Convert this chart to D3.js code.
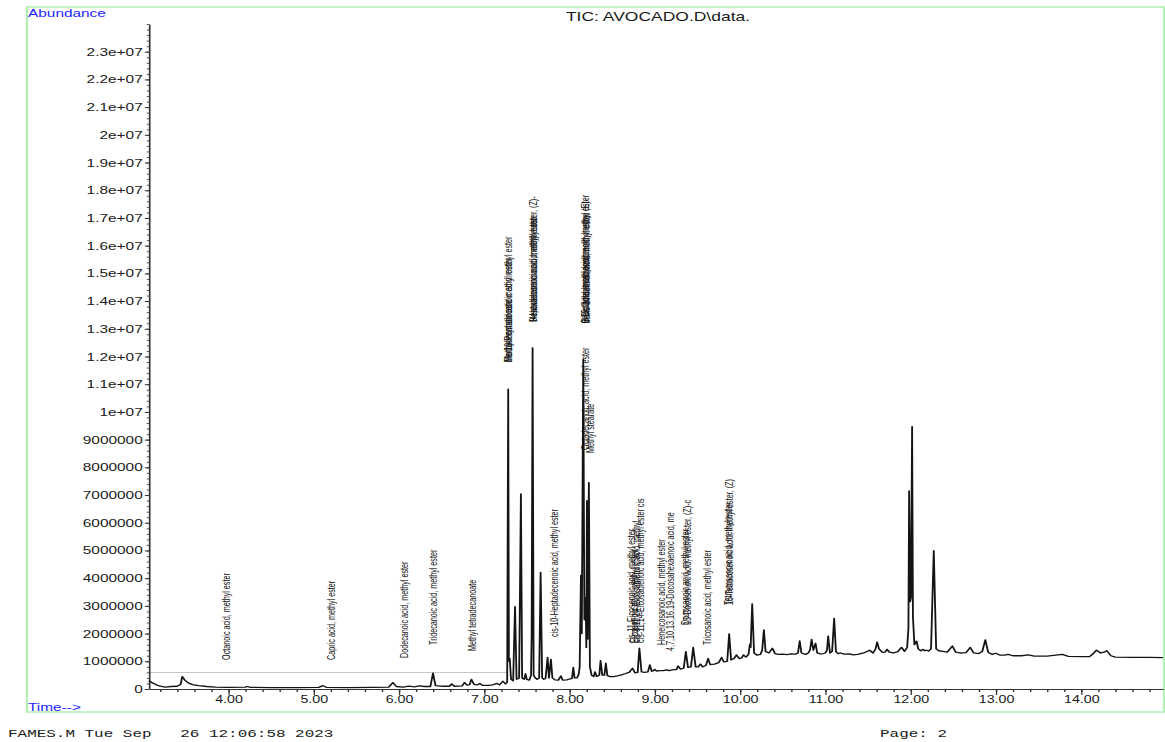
<!DOCTYPE html>
<html><head><meta charset="utf-8">
<script src="https://cdn.jsdelivr.net/npm/d3@7"></script>
<style>html,body{margin:0;padding:0;background:#fff;overflow:hidden}</style>
</head><body>
<svg id="chart" width="1165" height="742"></svg>
<script>
// ---------------- data ----------------
const titleText = "TIC: AVOCADO.D\\data.";
const yAxisTitle = "Abundance";
const xAxisTitle = "Time-->";
const footerLeft = "FAMES.M Tue Sep   26 12:06:58 2023";
const footerRight = "Page: 2";

const xTicks = [4, 5, 6, 7, 8, 9, 10, 11, 12, 13, 14];
const xTickLabels = ["4.00","5.00","6.00","7.00","8.00","9.00","10.00","11.00","12.00","13.00","14.00"];
// abundance in millions
const yTicks = [0,1,2,3,4,5,6,7,8,9,10,11,12,13,14,15,16,17,18,19,20,21,22,23];
const yTickLabels = ["0","1000000","2000000","3000000","4000000","5000000","6000000","7000000","8000000","9000000",
  "1e+07","1.1e+07","1.2e+07","1.3e+07","1.4e+07","1.5e+07","1.6e+07","1.7e+07","1.8e+07","1.9e+07",
  "2e+07","2.1e+07","2.2e+07","2.3e+07"];
const thresholdLevel = 0.6;
const thresholdEnd = 7.28;

// TIC trace: [time (min), abundance (millions)]
const trace = [
[3.07,0.30],[3.10,0.24],[3.15,0.16],[3.20,0.10],[3.26,0.07],[3.33,0.09],[3.40,0.10],[3.44,0.16],[3.46,0.45],[3.49,0.32],
[3.53,0.22],[3.58,0.16],[3.65,0.12],[3.75,0.09],[3.85,0.07],[4.00,0.06],[4.20,0.07],[4.22,0.09],[4.26,0.06],[4.50,0.05],
[4.80,0.05],[5.06,0.06],[5.11,0.12],[5.15,0.06],[5.40,0.05],[5.70,0.06],[5.88,0.07],[5.93,0.23],[5.97,0.09],[6.05,0.07],
[6.12,0.10],[6.18,0.08],[6.24,0.11],[6.30,0.09],[6.37,0.09],[6.40,0.57],[6.43,0.12],[6.50,0.10],[6.59,0.10],[6.62,0.18],
[6.65,0.10],[6.74,0.11],[6.77,0.23],[6.80,0.14],[6.83,0.16],[6.85,0.35],[6.88,0.17],[6.92,0.15],[6.95,0.20],[6.98,0.13],
[7.05,0.13],[7.10,0.15],[7.15,0.20],[7.18,0.15],[7.22,0.28],[7.25,0.18],[7.27,0.25],[7.282,10.82],[7.29,1.0],[7.30,1.1],
[7.315,0.35],[7.34,0.30],[7.362,2.97],[7.38,0.35],[7.41,0.40],[7.431,7.04],[7.445,0.40],[7.47,0.35],[7.485,0.55],[7.50,0.35],
[7.53,0.32],[7.55,0.50],[7.557,1.90],[7.568,12.31],[7.58,0.50],[7.60,0.40],[7.62,0.35],[7.645,0.40],[7.662,4.21],[7.68,0.40],
[7.70,0.35],[7.72,0.38],[7.744,1.14],[7.76,0.40],[7.783,1.07],[7.80,0.40],[7.83,0.33],[7.87,0.32],[7.90,0.47],[7.92,0.32],
[7.97,0.33],[8.00,0.36],[8.03,0.38],[8.045,0.78],[8.06,0.40],[8.09,0.40],[8.11,0.55],[8.12,0.80],[8.135,4.10],[8.145,2.00],
[8.162,11.90],[8.175,2.50],[8.19,3.30],[8.198,1.50],[8.205,6.80],[8.215,1.80],[8.228,7.45],[8.24,0.80],[8.26,0.50],[8.285,0.45],
[8.30,0.62],[8.32,0.45],[8.35,0.50],[8.365,1.02],[8.385,0.50],[8.41,0.50],[8.427,0.93],[8.445,0.48],[8.48,0.45],[8.52,0.45],
[8.56,0.47],[8.60,0.50],[8.65,0.55],[8.70,0.60],[8.74,0.75],[8.77,0.58],[8.80,0.60],[8.82,1.47],[8.845,0.62],[8.88,0.60],
[8.92,0.62],[8.943,0.87],[8.965,0.64],[8.985,0.66],[9.00,0.71],[9.02,0.65],[9.06,0.66],[9.10,0.66],[9.139,0.69],[9.17,0.66],
[9.22,0.70],[9.255,0.70],[9.275,0.83],[9.30,0.72],[9.34,0.75],[9.365,1.35],[9.39,0.78],[9.425,0.80],[9.451,1.50],[9.48,0.80],
[9.51,0.80],[9.537,0.90],[9.56,0.80],[9.60,0.85],[9.627,1.10],[9.65,0.88],[9.70,0.90],[9.75,0.95],[9.784,1.14],[9.81,0.98],
[9.85,1.00],[9.873,1.99],[9.895,1.05],[9.93,1.10],[9.96,1.23],[9.99,1.10],[10.02,1.12],[10.04,1.23],[10.07,1.15],[10.10,1.25],
[10.116,1.62],[10.125,1.50],[10.143,3.07],[10.165,1.30],[10.20,1.22],[10.24,1.25],[10.26,1.40],[10.28,2.13],[10.30,1.35],[10.34,1.30],
[10.38,1.47],[10.41,1.28],[10.45,1.25],[10.50,1.26],[10.55,1.24],[10.60,1.27],[10.65,1.26],[10.68,1.30],[10.70,1.74],[10.72,1.30],
[10.77,1.25],[10.80,1.30],[10.82,1.40],[10.84,1.79],[10.86,1.40],[10.886,1.65],[10.905,1.30],[10.94,1.27],[10.98,1.28],[11.00,1.30],
[11.02,1.40],[11.034,1.91],[11.055,1.30],[11.08,1.35],[11.104,2.55],[11.125,1.35],[11.15,1.28],[11.18,1.30],[11.22,1.26],[11.28,1.27],
[11.33,1.23],[11.38,1.25],[11.45,1.30],[11.52,1.40],[11.56,1.30],[11.59,1.45],[11.608,1.69],[11.63,1.45],[11.67,1.32],[11.70,1.33],
[11.725,1.43],[11.75,1.33],[11.80,1.30],[11.85,1.35],[11.894,1.50],[11.93,1.36],[11.96,1.50],[11.975,2.20],[11.983,7.15],[11.995,3.15],
[12.005,3.30],[12.018,9.47],[12.028,2.60],[12.045,1.60],[12.07,1.73],[12.09,1.45],[12.12,1.38],[12.148,1.43],[12.165,1.38],[12.187,1.40],
[12.21,1.37],[12.24,1.45],[12.272,4.99],[12.30,1.45],[12.33,1.38],[12.38,1.36],[12.43,1.33],[12.49,1.55],[12.53,1.33],[12.58,1.30],
[12.65,1.31],[12.70,1.50],[12.74,1.30],[12.80,1.28],[12.84,1.35],[12.877,1.77],[12.91,1.32],[12.96,1.25],[12.999,1.29],[13.05,1.22],
[13.10,1.22],[13.144,1.25],[13.20,1.20],[13.30,1.20],[13.38,1.23],[13.45,1.19],[13.60,1.19],[13.78,1.25],[13.85,1.18],[14.00,1.17],
[14.10,1.17],[14.15,1.30],[14.18,1.40],[14.23,1.30],[14.27,1.33],[14.30,1.38],[14.35,1.20],[14.40,1.15],[14.60,1.14],[14.80,1.14],
[14.96,1.13]
];

// peak annotations: name, retention time, abundance (millions) where the label starts
const peakNames = [
"Octanoic acid, methyl ester",
"Capric acid, methyl ester",
"Dodecanoic acid, methyl ester",
"Tridecanoic acid, methyl ester",
"Methyl tetradecanoate",
"Methyl myristoleate",
"Pentadecanoic acid methyl ester",
"cis-10-Pentadecenoic acid methyl ester",
"Hexadecanoic acid, methyl ester",
"Heptadecanoic acid, methyl ester",
"9-Hexadecenoic acid, methyl ester, (Z)-",
"cis-10-Heptadecenoic acid, methyl ester",
"Oleic acid, methyl ester",
"9-Octadecenoic acid, methyl ester, (E)-",
"9,12-Octadecadienoic acid, methyl ester",
"trans-Linoelaidic acid, methyl ester",
"Octadecanoic acid, methyl ester",
"Methyl stearate",
"cis-11-Eicosenoic acid, methyl ester",
"Eicosanoic acid, methyl ester",
"cis-8,11,14-Eicosatrienoic acid, methyl",
"cis-11,14-Eicosadienoic acid, methyl ester cis",
"Heneicosanoic acid, methyl ester",
"4,7,10,13,16,19-Docosahexaenoic acid, me",
"Docosanoic acid, methyl ester",
"13-Docosenoic acid, methyl ester, (Z)-c",
"Tricosanoic acid, methyl ester",
"Tetracosanoic acid, methyl ester",
"15-Tetracosenoic acid, methyl ester, (Z)"
];
const peakTimes = [3.984,5.204,6.071,6.411,6.868,7.280,7.284,7.288,7.574,7.578,7.582,7.830,8.183,8.187,8.190,8.194,
  8.193,8.252,8.733,8.768,8.790,8.838,9.084,9.190,9.360,9.380,9.623,9.865,9.875];
const peakAnchors = [1.05,1.05,1.12,1.59,1.37,11.8,11.8,11.8,13.25,13.25,13.25,1.88,13.2,13.2,13.2,13.2,
  8.63,8.52,1.66,1.66,1.66,1.66,1.59,1.37,2.31,2.31,1.59,3.03,3.03];

// ---------------- layout ----------------
const S = 1.4;                 // horizontal stretch of the printout
const u = px => px / S;        // screen px -> unstretched units
const svg = d3.select("#chart");
const root = svg.append("g").attr("transform", `scale(${S},1)`);

const x = d3.scaleLinear().domain([3.07, 14.96]).range([u(149), u(1163)]);
const y = d3.scaleLinear().domain([0, 24]).range([689, 24]);

// frame
root.append("rect").attr("x", u(27)).attr("y", 7).attr("width", u(1164) - u(27)).attr("height", 705)
  .attr("fill", "none").attr("stroke", "#b0f0b0").attr("stroke-width", 1.5);

const sans = "'Liberation Sans', Arial, Helvetica, sans-serif";

root.append("text").attr("x", u(28)).attr("y", 17).text(yAxisTitle)
  .attr("font-family", sans).attr("font-size", 11).attr("fill", "#2424ff");
root.append("text").attr("x", u(28)).attr("y", 711).text(xAxisTitle)
  .attr("font-family", sans).attr("font-size", 11).attr("fill", "#2424ff");
root.append("text").attr("x", u(658)).attr("y", 21).attr("text-anchor", "middle").text(titleText)
  .attr("font-family", sans).attr("font-size", 12.5).attr("fill", "#1a1a1a");

// threshold line
root.append("line").attr("x1", x(3.07)).attr("x2", x(thresholdEnd))
  .attr("y1", y(thresholdLevel)).attr("y2", y(thresholdLevel))
  .attr("stroke", "#b4b4b4").attr("stroke-width", 0.9);

// y axis
const yMinor = d3.range(0, 24.001, 0.2).map(v => +v.toFixed(1));
root.append("g").attr("transform", `translate(${x(3.07)},0)`)
  .call(d3.axisLeft(y).tickValues(yMinor).tickSize(1.6).tickFormat(""))
  .call(g => g.select(".domain").remove())
  .selectAll("line").attr("stroke", "#555");
const yAx = root.append("g").attr("transform", `translate(${x(3.07)},0)`)
  .call(d3.axisLeft(y).tickValues(yTicks).tickFormat((d, i) => yTickLabels[i]).tickSize(3).tickSizeOuter(0).tickPadding(1.5));
yAx.select(".domain").attr("stroke", "#333").attr("stroke-width", 1.2);
yAx.selectAll(".tick line").attr("stroke", "#333");
yAx.selectAll("text").attr("font-family", sans).attr("font-size", 11).attr("fill", "#1a1a1a");

// x axis
const xMinor = d3.range(3.2, 14.96, 0.2).map(v => +v.toFixed(1));
root.append("g").attr("transform", `translate(0,${y(0)})`)
  .call(d3.axisBottom(x).tickValues(xMinor).tickSize(3).tickFormat(""))
  .call(g => g.select(".domain").remove())
  .selectAll("line").attr("stroke", "#333");
const xAx = root.append("g").attr("transform", `translate(0,${y(0)})`)
  .call(d3.axisBottom(x).tickValues(xTicks).tickFormat((d, i) => xTickLabels[i]).tickSize(6).tickSizeOuter(0).tickPadding(1));
xAx.select(".domain").attr("stroke", "#333").attr("stroke-width", 1.2);
xAx.selectAll(".tick line").attr("stroke", "#333").attr("stroke-width", 0.9);
xAx.selectAll("text").attr("font-family", sans).attr("font-size", 10.2).attr("fill", "#1a1a1a");

// trace
const line = d3.line().x(d => x(d[0])).y(d => y(d[1]));
root.append("path").datum(trace).attr("d", line)
  .attr("fill", "none").attr("stroke", "#141414").attr("stroke-width", 1.3).attr("stroke-linejoin", "round");

// peak labels
root.append("g").selectAll("text").data(peakNames).join("text")
  .attr("transform", (d, i) => `translate(${x(peakTimes[i])},${y(peakAnchors[i])}) rotate(-90)`)
  .attr("dy", "0.35em")
  .attr("font-family", sans).attr("font-size", 7.2).attr("fill", "#111")
  .text(d => d);

// footer
const mono = "'Liberation Mono', 'DejaVu Sans Mono', monospace";
root.append("text").attr("x", u(8)).attr("y", 737).text(footerLeft)
  .attr("font-family", mono).attr("font-size", 11.4).attr("fill", "#1a1a1a").style("white-space", "pre");
root.append("text").attr("x", u(880)).attr("y", 737).text(footerRight)
  .attr("font-family", mono).attr("font-size", 11.4).attr("fill", "#1a1a1a").style("white-space", "pre");
</script>
</body></html>
